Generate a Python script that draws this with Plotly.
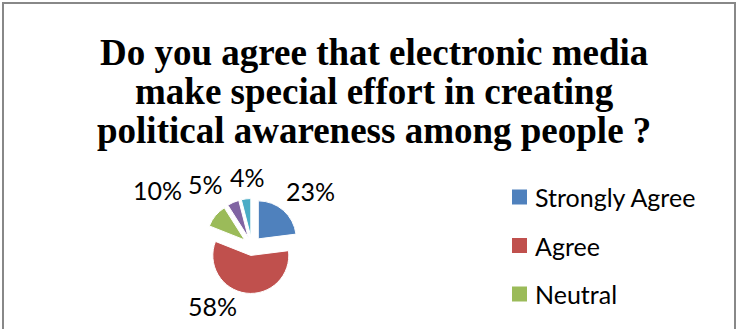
import plotly.graph_objects as go

# Survey responses
labels = ["Strongly Agree", "Agree", "Neutral", "Disagree", "Strongly Disagree"]
values = [23, 58, 10, 5, 4]
colors = ["#4F81BD", "#C0504D", "#9BBB59", "#8064A2", "#4BACC6"]

title_lines = [
    "Do you agree that electronic media",
    "make special effort in creating",
    "political awareness among people ?",
]

W, H = 738, 329


def px(x):
    return x / W


def py(y):
    return 1 - y / H


# Pie geometry in pixels
cx, cy, r, pull = 252, 246, 38, 0.25
half = r * (1 + pull)

fig = go.Figure()
fig.add_trace(go.Pie(
    labels=labels,
    values=values,
    marker=dict(colors=colors, line=dict(color="white", width=1)),
    sort=False,
    direction="clockwise",
    rotation=0,
    pull=[pull] * len(values),
    textinfo="none",
    showlegend=False,
    domain=dict(x=[px(cx - half), px(cx + half)],
                y=[py(cy + half), py(cy - half)]),
    hoverinfo="label+percent",
))

# Percentage labels placed around the pie
label_pos = [(310, 191), (212, 306), (157, 190), (205, 184), (247, 177)]
for v, (lx, ly) in zip(values, label_pos):
    fig.add_annotation(text=f"{v}%", xref="paper", yref="paper",
                       x=px(lx), y=py(ly), xanchor="center", yanchor="middle",
                       showarrow=False,
                       font=dict(family="Lato", size=25, color="#000000"))

# Chart border
fig.add_shape(type="rect", xref="paper", yref="paper",
              x0=px(3), x1=px(735), y0=-0.2, y1=py(3),
              line=dict(color="#888888", width=2))

# Title, one line at a time
title_y = [52, 91, 130]
for line, ty in zip(title_lines, title_y):
    fig.add_annotation(
        text=f"<b>{line}</b>", xref="paper", yref="paper",
        x=px(374), y=py(ty), xanchor="center", yanchor="middle",
        showarrow=False,
        font=dict(family="Liberation Serif", size=37, color="#000000"),
    )

# Legend drawn as squares plus labels
leg_x, leg_y0, leg_dy, sq = 512, 197, 48.5, 15
for i, (lab, col) in enumerate(zip(labels, colors)):
    yc = leg_y0 + i * leg_dy
    fig.add_shape(type="rect", xref="paper", yref="paper",
                  x0=px(leg_x), x1=px(leg_x + sq),
                  y0=py(yc + sq / 2), y1=py(yc - sq / 2),
                  fillcolor=col, line=dict(width=0))
    fig.add_annotation(text=lab, xref="paper", yref="paper",
                       x=px(leg_x + sq + 6), y=py(yc),
                       xanchor="left", yanchor="middle", showarrow=False,
                       font=dict(family="Lato", size=25, color="#000000"))

fig.update_layout(
    width=W, height=H,
    margin=dict(l=0, r=0, t=0, b=0, pad=0),
    paper_bgcolor="white", plot_bgcolor="white",
)

fig.write_html("out.html")
